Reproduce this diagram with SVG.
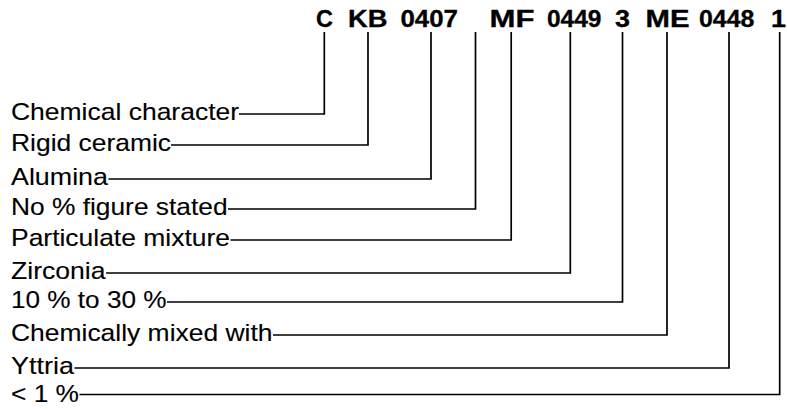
<svg xmlns="http://www.w3.org/2000/svg" width="787" height="409" viewBox="0 0 787 409">
<style>
.code{font-family:"Liberation Sans",Arial,sans-serif;font-size:23px;font-weight:bold;fill:#000;stroke:#000;stroke-width:0.3}
.lbl{font-family:"Liberation Sans",Arial,sans-serif;font-size:23px;fill:#000;stroke:#000;stroke-width:0.1}
.conn{fill:none;stroke:#000;stroke-width:1.7;stroke-linejoin:miter}
</style>
<rect width="787" height="409" fill="#fff"/>
<g id="code">
<text class="code" x="316" y="27" textLength="17" lengthAdjust="spacingAndGlyphs">C</text>
<text class="code" x="348" y="27" textLength="39.5" lengthAdjust="spacingAndGlyphs">KB</text>
<text class="code" x="400.5" y="27" textLength="57.5" lengthAdjust="spacingAndGlyphs">0407</text>
<text class="code" x="489.5" y="27" textLength="45" lengthAdjust="spacingAndGlyphs">MF</text>
<text class="code" x="547" y="27" textLength="54.5" lengthAdjust="spacingAndGlyphs">0449</text>
<text class="code" x="615" y="27" textLength="15" lengthAdjust="spacingAndGlyphs">3</text>
<text class="code" x="645.5" y="27" textLength="44" lengthAdjust="spacingAndGlyphs">ME</text>
<text class="code" x="699" y="27" textLength="55.5" lengthAdjust="spacingAndGlyphs">0448</text>
<text class="code" x="771" y="27" textLength="15" lengthAdjust="spacingAndGlyphs">1</text>
</g>
<g id="labels">
<g id="n1"><text class="lbl" transform="translate(11,120) scale(1.15,1)" textLength="198.3" lengthAdjust="spacingAndGlyphs">Chemical character</text></g>
<g id="n2"><text class="lbl" transform="translate(11,151) scale(1.15,1)" textLength="139.1" lengthAdjust="spacingAndGlyphs">Rigid ceramic</text></g>
<g id="n3"><text class="lbl" transform="translate(11,185) scale(1.15,1)" textLength="84.3" lengthAdjust="spacingAndGlyphs">Alumina</text></g>
<g id="n4"><text class="lbl" transform="translate(11,215) scale(1.15,1)" textLength="188.3" lengthAdjust="spacingAndGlyphs">No % figure stated</text></g>
<g id="n5"><text class="lbl" transform="translate(11,246) scale(1.15,1)" textLength="190.4" lengthAdjust="spacingAndGlyphs">Particulate mixture</text></g>
<g id="n6"><text class="lbl" transform="translate(11,279) scale(1.15,1)" textLength="82.2" lengthAdjust="spacingAndGlyphs">Zirconia</text></g>
<g id="n7"><text class="lbl" transform="translate(11,308) scale(1.15,1)" textLength="135.2" lengthAdjust="spacingAndGlyphs">10 % to 30 %</text></g>
<g id="n8"><text class="lbl" transform="translate(11,341) scale(1.15,1)" textLength="227.4" lengthAdjust="spacingAndGlyphs">Chemically mixed with</text></g>
<g id="n9"><text class="lbl" transform="translate(11,374) scale(1.15,1)" textLength="54.8" lengthAdjust="spacingAndGlyphs">Yttria</text></g>
<g id="n10"><text class="lbl" transform="translate(11,402) scale(1.15,1)" textLength="59.1" lengthAdjust="spacingAndGlyphs">&lt; 1 %</text></g>
</g>
<g id="connectors" class="conn">
<polyline points="239,114 324.3,114 324.3,32"/>
<polyline points="171,145 368,145 368,32"/>
<polyline points="108.5,179 431,179 431,32"/>
<polyline points="228,209 475.5,209 475.5,32"/>
<polyline points="230.5,240 511.2,240 511.2,32"/>
<polyline points="106,273 570.3,273 570.3,32"/>
<polyline points="167,302 622.5,302 622.5,32"/>
<polyline points="273,335 667,335 667,32"/>
<polyline points="74.5,368 729,368 729,32"/>
<polyline points="79.5,394.5 779.7,394.5 779.7,32"/>
</g>
</svg>
